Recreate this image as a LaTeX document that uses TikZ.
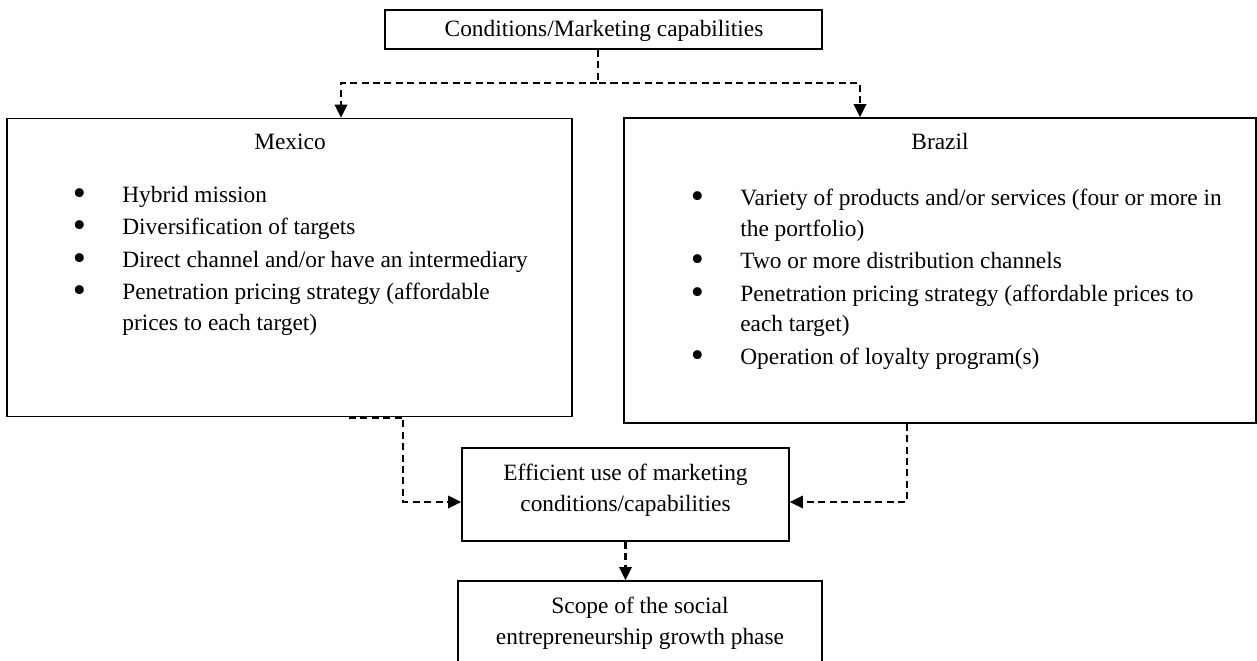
\documentclass[tikz,border=0pt]{standalone}
\usepackage{fontspec}
\setmainfont{Liberation Serif}
\usetikzlibrary{arrows.meta}

\newcommand\blt{\makebox[0pt]{\smash{\raisebox{-0.13em}{\scalebox{1.6}{\textbullet}}}}\hspace*{0.86cm}}
\newcommand\cnt{\hspace*{0.86cm}}

\tikzset{
  box/.style={draw, line width=0.9pt, inner sep=0pt},
  link/.style={line width=1.4pt, dash pattern=on 4pt off 2.5pt,
    -{Triangle[length=7.5pt,width=7pt]}},
  txt/.style={font=\fontsize{13.3}{17.4}\selectfont, inner sep=0pt},
}

\begin{document}
\begin{tikzpicture}[x=0.02cm, y=-0.02cm]
\useasboundingbox (0,0) rectangle (1257,660);
\clip (0,0) rectangle (1257,660);

% boxes
\node[box, minimum width=8.74cm, minimum height=0.78cm] (top) at (603.5,29.5) {};
\node[box, minimum width=11.3cm, minimum height=5.96cm] (mexico) at (289.5,267.5) {};
\node[box, minimum width=12.64cm, minimum height=6.1cm] (brazil) at (940,270.5) {};
\node[box, minimum width=6.54cm, minimum height=1.86cm] (middle) at (625.5,494.5) {};
\node[box, minimum width=7.28cm, minimum height=2.4cm] (scope) at (640,641) {};

% texts
\node[txt] (toptext) at (604,31) {Conditions/Marketing capabilities};
\node[txt, anchor=base] (mxtitle) at (290,149) {Mexico};
\node[txt, anchor=base] (brtitle) at (940,149) {Brazil};
\node[txt, align=left, anchor=base west] (mxlist) at (79,330) {%
  \blt Hybrid mission\\[1pt]
  \blt Diversification of targets\\[1pt]
  \blt Direct channel and/or have an intermediary\\[1pt]
  \blt Penetration pricing strategy (affordable\\
  \cnt prices to each target)};
\node[txt, align=left, anchor=base west] (brlist) at (697,364) {%
  \blt Variety of products and/or services (four or more in\\
  \cnt the portfolio)\\[1pt]
  \blt Two or more distribution channels\\[1pt]
  \blt Penetration pricing strategy (affordable prices to\\
  \cnt each target)\\[1pt]
  \blt Operation of loyalty program(s)};
\node[txt, align=center] (midtext) at (625.5,490.5) {Efficient use of marketing\\conditions/capabilities};
\node[txt, align=center] (scopetext) at (640,623.5) {Scope of the social\\entrepreneurship growth phase};

% connectors
\coordinate (split) at (598,83);
\coordinate (ml) at (403,502);
\coordinate (mr) at (907,502);
\draw[link] (split |- top.south) -- (split) -| ([xshift=1.03cm]mexico.north);
\draw[link] (split |- top.south) -- (split) -| ([xshift=-1.6cm]brazil.north);
\draw[link] ([xshift=1.19cm]mexico.south) -- (ml |- mexico.south) -- (ml) -- (ml -| middle.west);
\draw[link] (mr |- brazil.south) -- (mr) -- (mr -| middle.east);
\draw[link] (middle.south) -- (middle.south |- scope.north);
\end{tikzpicture}
\end{document}
